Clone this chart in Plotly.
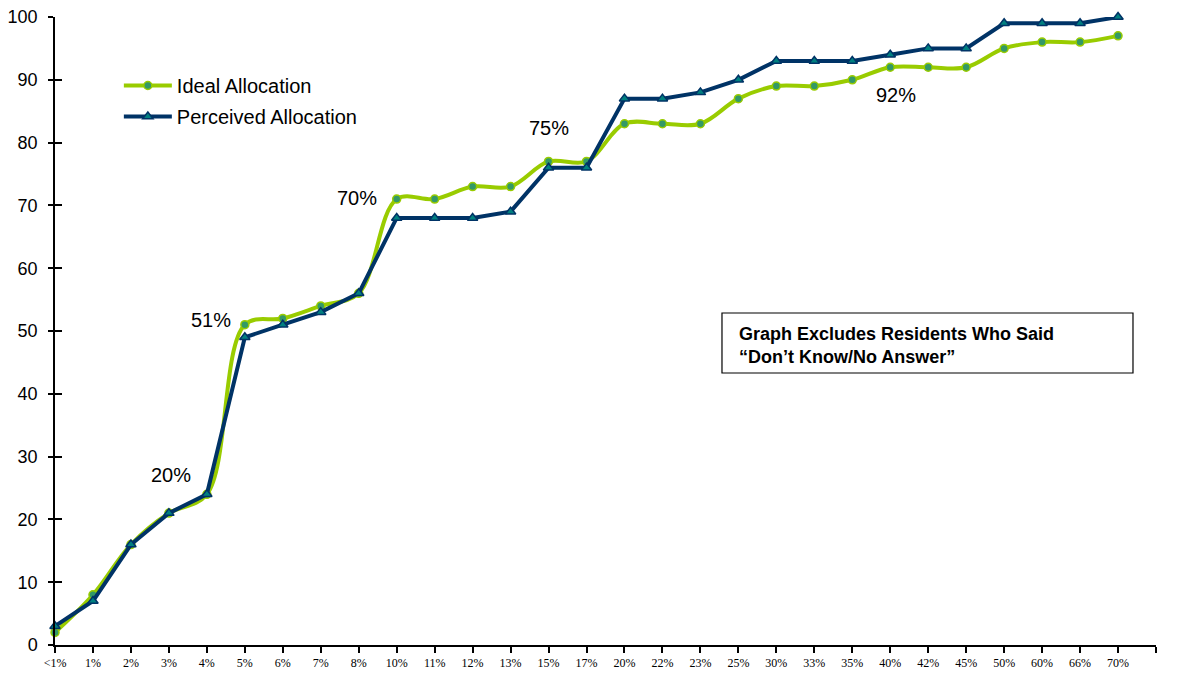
import plotly.graph_objects as go

categories = ["<1%", "1%", "2%", "3%", "4%", "5%", "6%", "7%", "8%", "10%", "11%", "12%", "13%", "15%",
              "17%", "20%", "22%", "23%", "25%", "30%", "33%", "35%", "40%", "42%", "45%", "50%", "60%", "66%", "70%"]
ideal = [2, 8, 16, 21, 24, 51, 52, 54, 56, 71, 71, 73, 73, 77, 77, 83, 83, 83, 87, 89, 89, 90, 92, 92, 92, 95, 96, 96, 97]
perceived = [3, 7, 16, 21, 24, 49, 51, 53, 56, 68, 68, 68, 69, 76, 76, 87, 87, 88, 90, 93, 93, 93, 94, 95, 95, 99, 99, 99, 100]
callouts = [("20%", 3.05, 27), ("51%", 4.1, 51.8), ("70%", 7.95, 71.2), ("75%", 13.0, 82.3), ("92%", 22.15, 87.6)]
note = "<b>Graph Excludes Residents Who Said<br>“Don’t Know/No Answer”</b>"

x = list(range(len(categories)))

fig = go.Figure()
fig.add_trace(go.Scatter(
    x=x, y=ideal, name="Ideal Allocation", mode="lines+markers", legendgroup="a",
    line=dict(color="#99CC00", width=4, shape="spline", smoothing=1.0),
    marker=dict(symbol="circle", size=8, color="#339966", line=dict(color="#99CC00", width=1.5)),
    cliponaxis=False,
))
fig.add_trace(go.Scatter(
    x=x, y=perceived, name="Perceived Allocation", mode="lines+markers", legendgroup="b",
    line=dict(color="#003366", width=4),
    marker=dict(symbol="triangle-up", size=9, color="#008080", line=dict(color="#003366", width=1.5)),
    cliponaxis=False,
))
fig.add_trace(go.Scatter(x=[0], y=[0], yaxis="y2", mode="markers", marker=dict(opacity=0),
                         showlegend=False, hoverinfo="skip"))

for txt, cx, cy in callouts:
    fig.add_annotation(x=cx, y=cy, text=txt, showarrow=False, xanchor="center", yanchor="middle",
                       font=dict(family="Liberation Sans, Arial", size=20, color="black"))

# note box
fig.add_shape(type="rect", xref="paper", yref="paper", x0=0.6058, x1=0.9791, y0=0.4331, y1=0.5287,
              line=dict(color="black", width=1.2), fillcolor="white", layer="above")
fig.add_annotation(xref="paper", yref="paper", x=0.6194, y=0.4777, xanchor="left", yanchor="middle",
                   text=note, showarrow=False, align="left",
                   font=dict(family="Liberation Sans, Arial", size=18, color="black"))

fig.update_layout(
    width=1188, height=675,
    margin=dict(l=55, r=32, t=17, b=30, autoexpand=False),
    plot_bgcolor="white", paper_bgcolor="white",
    showlegend=True,
    legend=dict(x=0.058, y=0.922, xanchor="left", yanchor="top", bgcolor="rgba(0,0,0,0)",
                font=dict(family="Liberation Sans, Arial", size=20, color="black"),
                traceorder="grouped", tracegroupgap=2, itemwidth=48),
    xaxis=dict(range=[0, 29], tickmode="array", tickvals=list(range(30)),
               ticktext=categories + [""], automargin=False,
               showgrid=False, zeroline=False, showline=True, linecolor="black", linewidth=2,
               ticks="outside", ticklen=6, tickcolor="black", tickwidth=1.5,
               tickfont=dict(family="Liberation Serif, Times New Roman", size=12, color="black"),
               tickangle=0),
    yaxis=dict(range=[0, 100], tickmode="array", tickvals=list(range(0, 101, 10)), automargin=False,
               showgrid=False, zeroline=False, showline=True, linecolor="black", linewidth=1.5,
               ticks="outside", ticklen=5, tickcolor="black", tickwidth=1.5, ticklabelstandoff=7,
               tickfont=dict(family="Liberation Sans, Arial", size=18, color="black")),
    yaxis2=dict(range=[0, 100], overlaying="y", anchor="x", side="left", tickmode="array",
                tickvals=list(range(0, 101, 10)), showticklabels=False, automargin=False,
                showgrid=False, zeroline=False, showline=False,
                ticks="inside", ticklen=7, tickcolor="black", tickwidth=1.5),
)

fig.write_html("out.html", config={"displayModeBar": False},
               post_script="document.body.style.margin='0';")
